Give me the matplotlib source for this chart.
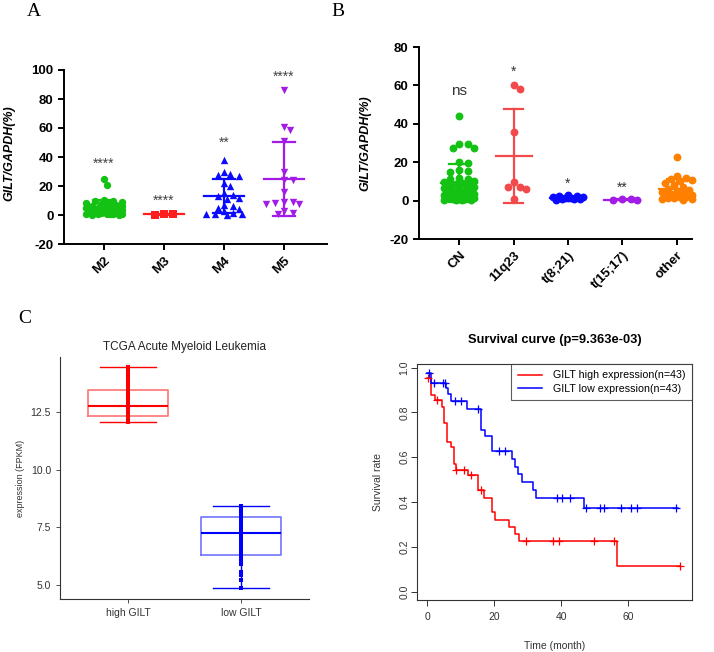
import matplotlib
matplotlib.use('Agg')
import matplotlib.pyplot as plt
import numpy as np

plt.rcParams['font.family'] = ['Liberation Sans', 'DejaVu Sans']
plt.rcParams['axes.unicode_minus'] = False

W, H = 714, 652

# ---- panel A: GILT by FAB subtype
a_groups = ['M2', 'M3', 'M4', 'M5']
a_colors = ['#14C214', '#FF1E1E', '#0A0AFF', '#A21BE6']
a_markers = ['o', 's', '^', 'v']
a_stars = ['****', '****', '**', '****']
a_m2 = [24.5, 20.5, 10.5, 10, 9.5, 9, 8.5, 8, 7.5, 7, 6.5, 6, 6, 5.5, 5, 5, 4.5, 4.5, 4, 4,
        3.5, 3.5, 3, 3, 2.5, 2.5, 2, 2, 1.5, 1.5, 1, 1, 1, 0.5, 0.5, 0.5, 0.3, 0.2]
a_m3 = [0.3, 0.5, 0.4]
a_m4 = [38, 30, 28, 27.5, 27, 22, 20, 15, 14, 13, 12, 11, 7, 6.5, 5, 4, 2.5, 1.5, 1, 0.8, 0.5, 0.3]
a_m5 = [86, 60.5, 58.5, 51, 30, 24, 24, 16, 9, 8, 7.5, 7.5, 9, 2.5, 1.5, 1]
a_vals = [a_m2, a_m3, a_m4, a_m5]

# ---- panel B: GILT by karyotype
b_groups = ['CN', '11q23', 't(8;21)', 't(15;17)', 'other']
b_colors = ['#14C214', '#F2494B', '#0A0AFF', '#A21BE6', '#FF8000']
b_stars = ['ns', '*', '*', '**', '']
b_cn = [44, 29.5, 29.5, 27.5, 27.5, 20, 19.5, 16, 15.5, 15, 12, 11.5, 11, 10, 9.5, 9, 8.5, 8,
        7.5, 7, 6.5, 6, 5.5, 5, 5, 4.5, 4, 4, 3.5, 3, 3, 2.5, 2, 2, 1.5, 1.5, 1, 1, 0.8, 0.5,
        0.5, 0.3, 0.2]
b_11q23 = [60, 58, 35.5, 9.9, 7.0, 7.2, 5.9, 1.0]
b_t821 = [3.0, 2.6, 2.2, 2.0, 1.8, 1.6, 1.4, 1.2, 1.0, 0.8, 0.6, 0.4]
b_t1517 = [0.3, 0.4, 0.6, 0.8]
b_other = [22.5, 13, 12, 11, 10.5, 10, 9, 8, 7, 6, 5.5, 5, 4.5, 4, 3.5, 3, 3, 2.5, 2, 2,
           1.5, 1.5, 1, 1, 0.5]
b_vals = [b_cn, b_11q23, b_t821, b_t1517, b_other]

# ---- panel C: TCGA expression
c_groups = ['high GILT', 'low GILT']
c_high = [12.05, 12.07, 12.1, 12.12, 12.15, 12.18, 12.2, 12.24, 12.27, 12.3, 12.33, 12.35,
          12.4, 12.45, 12.5, 12.55, 12.6, 12.64, 12.68, 12.71, 12.74, 12.76, 12.8, 12.85,
          12.9, 12.98, 13.05, 13.12, 13.2, 13.3, 13.38, 13.43, 13.47, 13.55, 13.65, 13.75,
          13.85, 13.95, 14.05, 14.15, 14.25, 14.38, 14.45]
c_low = [4.86, 5.2, 5.45, 5.5, 5.55, 5.9, 6.05, 6.1, 6.2, 6.25, 6.28, 6.32, 6.4, 6.5, 6.6,
         6.7, 6.8, 6.9, 7.0, 7.1, 7.2, 7.26, 7.3, 7.35, 7.45, 7.55, 7.6, 7.7, 7.75, 7.8,
         7.88, 7.94, 7.98, 8.02, 8.06, 8.1, 8.15, 8.2, 8.25, 8.3, 8.35, 8.4, 8.42]

# ---- panel D: survival
hi_t = [0, 1.0, 2.3, 4.3, 5.0, 6.0, 7.1, 7.9, 8.5, 12.2, 15.2, 16.9, 19.2, 20.3, 24.3, 26.3,
        27.4, 56.6, 75.5]
hi_s = [0.953, 0.878, 0.856, 0.826, 0.751, 0.670, 0.645, 0.568, 0.543, 0.520, 0.455, 0.420,
        0.357, 0.322, 0.290, 0.258, 0.226, 0.113, 0.113]
hi_cens = [0.3, 3.0, 8.7, 11.0, 13.0, 16.0, 29.4, 37.5, 39.3, 49.7, 55.6, 75.5]
lo_t = [0, 1.0, 5.7, 6.2, 7.1, 12.0, 16.2, 17.3, 19.4, 25.2, 26.1, 27.2, 28.3, 31.6, 32.6,
        46.8, 74.8]
lo_s = [0.977, 0.930, 0.907, 0.884, 0.849, 0.814, 0.721, 0.693, 0.628, 0.593, 0.558, 0.523,
        0.488, 0.453, 0.419, 0.372, 0.372]
lo_cens = [0.4, 1.9, 4.8, 5.3, 8.2, 10.2, 15.2, 21.4, 23.3, 38.6, 40.3, 42.5, 47.5, 51.6,
           52.6, 57.7, 60.7, 62.7, 74.3]

# annotation heights (layout)
a_star_y = [35, 9.5, 50, 95]
b_star_y = [57, 67, 9, 6.5]


def rect(l, t, r, b):
    return [l / W, 1 - b / H, (r - l) / W, (b - t) / H]


def swarm(ax, x0, vals, d, half=19):
    # narrow beeswarm in pixel space, overlap allowed when crowded
    tr = ax.transData
    order = np.argsort(vals)[::-1]
    pts = tr.transform(np.column_stack([np.full(len(vals), x0), np.asarray(vals, float)]))
    placed = []
    res = np.zeros_like(pts)
    step = d * 0.4
    nmax = int(half / step)
    cands = [0]
    for k in range(1, nmax + 1):
        cands += [k * step, -k * step]
    for i in order:
        px, py = pts[i]
        best, bestd = px, -1
        for s in cands:
            cx = px + s
            md = min([np.hypot(cx - qx, py - qy) for qx, qy in placed] + [99])
            if md >= d * 0.85:
                best = cx
                break
            if md > bestd + 0.5:
                best, bestd = cx, md
        placed.append((best, py))
        res[i] = (best, py)
    return tr.inverted().transform(res)


def prism_axes(ax, ylim, yticks, labels, xlim):
    ax.set_xlim(*xlim)
    ax.set_ylim(*ylim)
    ax.set_yticks(yticks)
    ax.set_xticks(range(len(labels)))
    ax.set_xticklabels(labels, rotation=45, ha='right', rotation_mode='anchor',
                       fontweight='bold', fontsize=9)
    for s in ['top', 'right']:
        ax.spines[s].set_visible(False)
    for s in ['left', 'bottom']:
        ax.spines[s].set_linewidth(1.4)
    ax.tick_params(width=1.4, length=4, labelsize=9.5)
    for lab in ax.get_yticklabels():
        lab.set_fontweight('bold')


def mean_sd(ax, x, vals, c):
    m = np.mean(vals)
    sd = np.std(vals, ddof=1)
    ax.plot([x - 0.33, x + 0.33], [m, m], color=c, lw=1.6, zorder=4)
    ax.plot([x, x], [m - sd, m + sd], color=c, lw=1.6, zorder=4)
    for yy in (m - sd, m + sd):
        ax.plot([x - 0.18, x + 0.18], [yy, yy], color=c, lw=1.6, zorder=4)


fig = plt.figure(figsize=(W / 100, H / 100), dpi=100)
fig.patch.set_facecolor('white')

# ---------------- A
axA = fig.add_axes(rect(64, 70, 327, 244))
prism_axes(axA, (-20, 100), range(-20, 101, 20), a_groups, (-0.667, 3.72))
axA.set_ylabel('GILT/GAPDH(%)', fontweight='bold', style='italic', fontsize=9)
axA.yaxis.set_label_coords(-0.185, 0.52)
for i, vals in enumerate(a_vals):
    xy = swarm(axA, i, vals, 7.5)
    axA.scatter(xy[:, 0], xy[:, 1], s=28, marker=a_markers[i], color=a_colors[i],
                linewidths=0, zorder=3, clip_on=False)
    mean_sd(axA, i, vals, a_colors[i])
    axA.text(i, a_star_y[i], a_stars[i], ha='center', va='center', fontsize=10, color='#444444')

# ---------------- B
axB = fig.add_axes(rect(419, 47, 692, 239))
prism_axes(axB, (-20, 80), range(-20, 81, 20), b_groups, (-0.74, 4.28))
axB.set_ylabel('GILT/GAPDH(%)', fontweight='bold', style='italic', fontsize=9)
axB.yaxis.set_label_coords(-0.175, 0.5)
for i, vals in enumerate(b_vals):
    xy = swarm(axB, i, vals, 7.5, half=17)
    axB.scatter(xy[:, 0], xy[:, 1], s=32, marker='o', color=b_colors[i],
                linewidths=0, zorder=3, clip_on=False)
    mean_sd(axB, i, vals, b_colors[i])
    if b_stars[i]:
        fs = 11 if b_stars[i] == 'ns' else 10
        axB.text(i, b_star_y[i], b_stars[i], ha='center', va='center', fontsize=fs,
                 color='#333333')

# ---------------- C
axC = fig.add_axes(rect(60, 357, 309, 599))
bp = axC.boxplot([c_high, c_low], positions=[1, 2], widths=0.7, whis=(0, 100),
                 capwidths=0.5, showfliers=False, patch_artist=False)
for i, c in enumerate(['#FF0000', '#0000FF']):
    bp['boxes'][i].set(color=c, alpha=0.55, lw=1.2)
    bp['medians'][i].set(color=c, lw=1.5)
    for w in bp['whiskers'][2 * i:2 * i + 2] + bp['caps'][2 * i:2 * i + 2]:
        w.set(color=c, lw=1.0)
axC.scatter(np.full(len(c_high), 1), c_high, s=8, marker='s', color='#FF0000', zorder=3,
            linewidths=0)
axC.scatter(np.full(len(c_low), 2), c_low, s=8, marker='s', color='#0000FF', zorder=3,
            linewidths=0)
axC.set_xlim(0.4, 2.6)
axC.set_ylim(4.39, 14.88)
axC.set_yticks([5.0, 7.5, 10.0, 12.5])
axC.set_yticklabels(['5.0', '7.5', '10.0', '12.5'])
axC.set_xticks([1, 2])
axC.set_xticklabels(c_groups)
for s in ['top', 'right']:
    axC.spines[s].set_visible(False)
for s in ['left', 'bottom']:
    axC.spines[s].set_linewidth(0.8)
    axC.spines[s].set_color('#333333')
axC.tick_params(labelsize=7.5, length=3, width=0.6, colors='#333333')
axC.set_title('TCGA Acute Myeloid Leukemia', fontsize=8.5, color='#222222', pad=5)
axC.set_ylabel('expression (FPKM)', fontsize=6.5, color='#333333')

# ---------------- D
axD = fig.add_axes(rect(417, 364, 692, 600))
axD.step(hi_t, hi_s, where='post', color='#FF0000', lw=1.1, label='GILT high expression(n=43)')
axD.step(lo_t, lo_s, where='post', color='#0000FF', lw=1.1, label='GILT low expression(n=43)')
for tt, ss, cs, c in [(hi_t, hi_s, hi_cens, '#FF0000'), (lo_t, lo_s, lo_cens, '#0000FF')]:
    idx = np.searchsorted(tt, cs, side='right') - 1
    axD.plot(cs, np.asarray(ss)[idx], '+', color=c, ms=6, mew=0.9, ls='none')
axD.set_xlim(-3.04, 79.0)
axD.set_ylim(-0.037, 1.016)
axD.set_xticks([0, 20, 40, 60])
axD.set_yticks([0.0, 0.2, 0.4, 0.6, 0.8, 1.0])
axD.set_yticklabels(['0.0', '0.2', '0.4', '0.6', '0.8', '1.0'], rotation=90, va='center')
axD.tick_params(labelsize=7.5, length=4, width=0.7, colors='#333333')
axD.tick_params(axis='y', pad=1.5)
axD.tick_params(axis='x', pad=5)
for s in axD.spines.values():
    s.set_linewidth(0.8)
    s.set_color('#333333')
axD.set_title('Survival curve (p=9.363e-03)', fontsize=9.3, fontweight='bold', pad=15)
axD.set_xlabel('Time (month)', fontsize=7.5, color='#333333', labelpad=13)
axD.set_ylabel('Survival rate', fontsize=7.5, color='#333333', labelpad=12)
leg = axD.legend(loc='upper right', borderaxespad=0, fontsize=7.7, fancybox=False,
                 handlelength=2.3, borderpad=0.6, labelspacing=0.3, handletextpad=1.0)
leg.get_frame().set_edgecolor('#333333')
leg.get_frame().set_linewidth(0.8)

# panel letters
for letter, x, y in [('A', 34, 12), ('B', 338, 12), ('C', 25, 318)]:
    fig.text(x / W, 1 - y / H, letter, fontsize=14, family='Liberation Serif',
             ha='center', va='center')

fig.savefig('out.png', dpi=100, facecolor='white')
